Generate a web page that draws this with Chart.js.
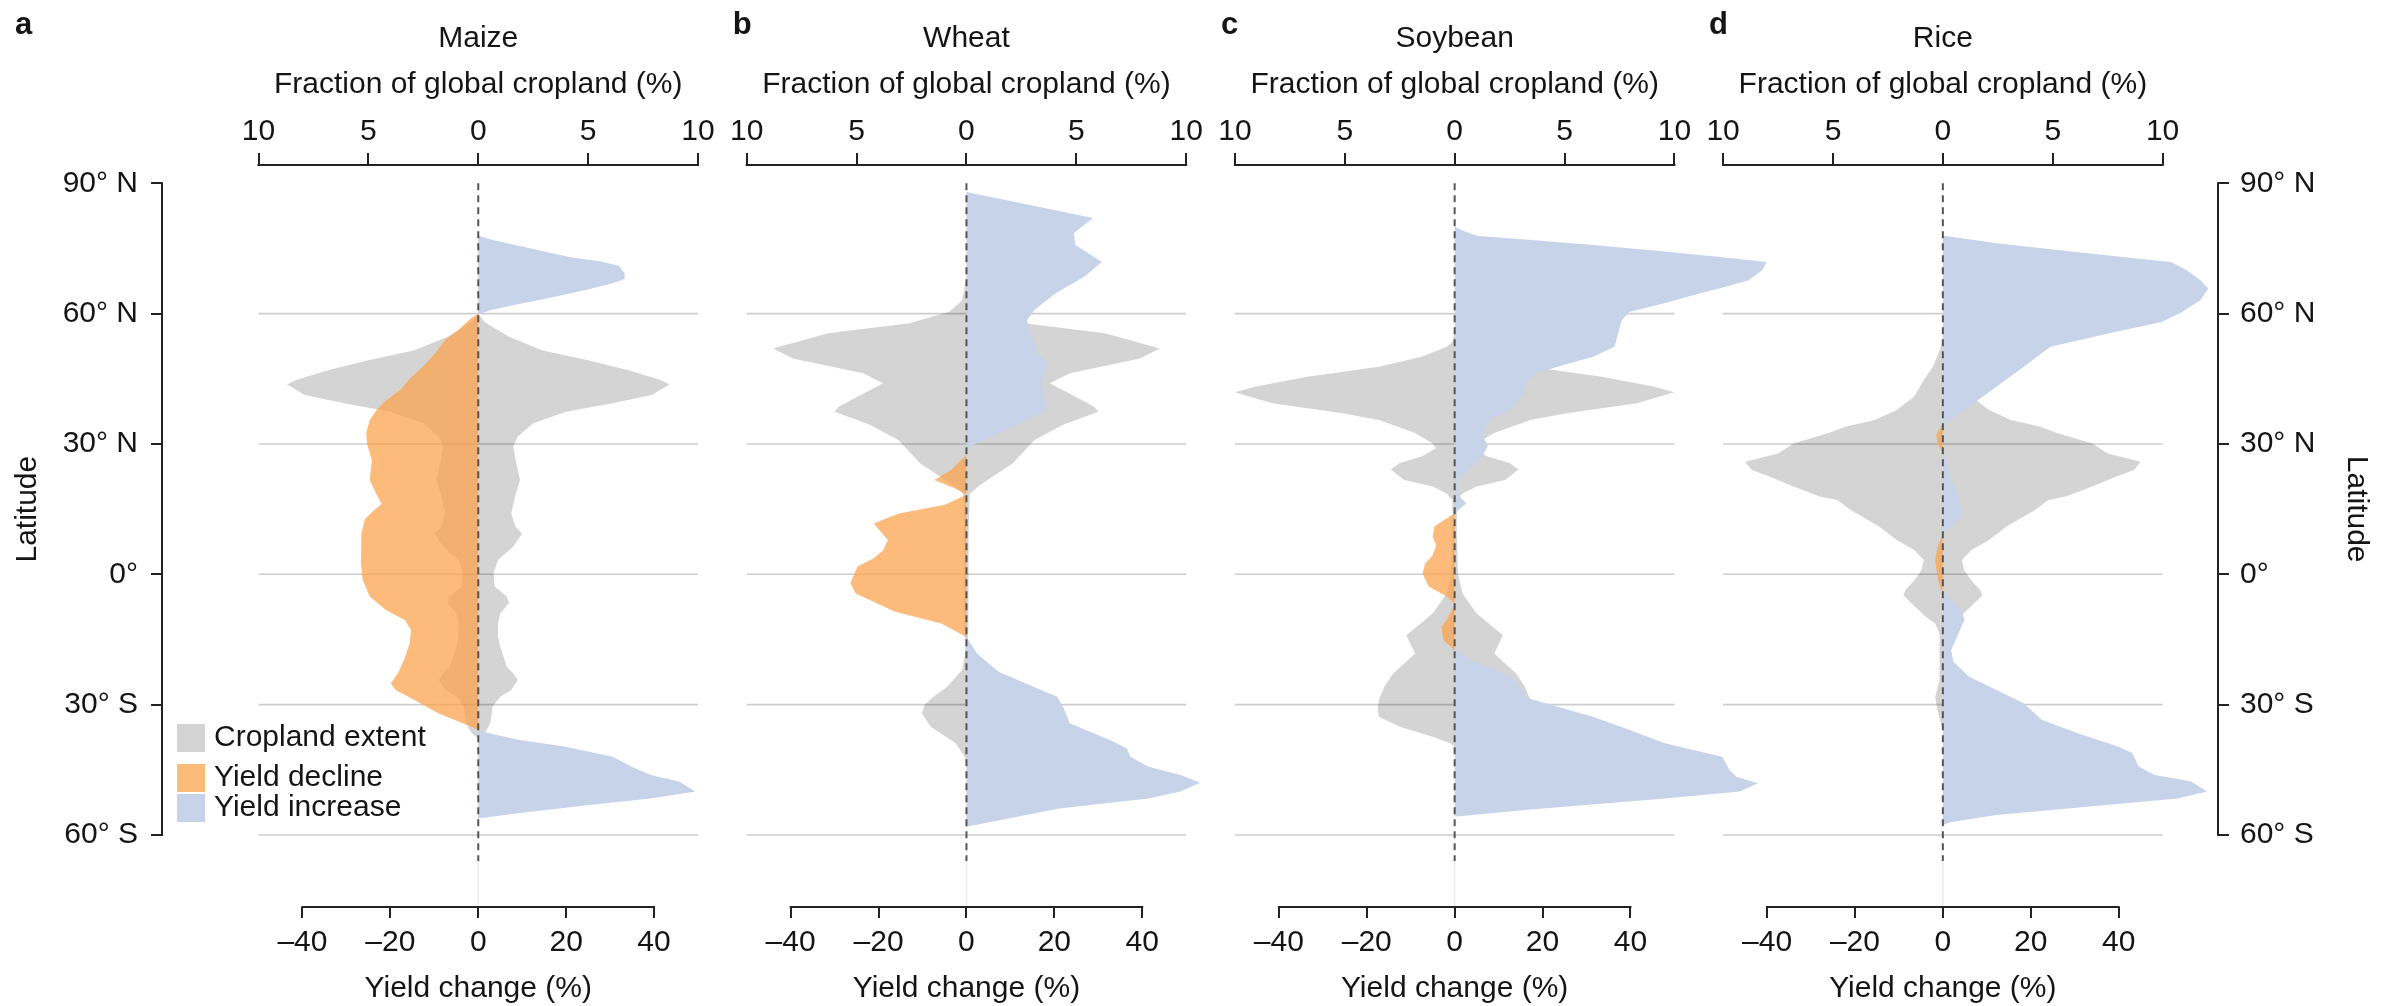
<!DOCTYPE html>
<html>
<head>
<meta charset="utf-8">
<script src="https://cdn.jsdelivr.net/npm/chart.js@4.4.1/dist/chart.umd.min.js"></script>
<style>
  html, body { margin: 0; padding: 0; background: #fff; }
  #wrap { position: relative; width: 2390px; height: 1006px; }
  #wrap canvas { position: absolute; left: 0; top: 0; }
</style>
</head>
<body>
<div id="wrap">
  <canvas id="c0" width="2390" height="1006"></canvas>
  <canvas id="c1" width="2390" height="1006"></canvas>
  <canvas id="c2" width="2390" height="1006"></canvas>
  <canvas id="c3" width="2390" height="1006"></canvas>
</div>
<script>
// crop-yield change vs latitude, four panels
const crops = ['Maize', 'Wheat', 'Soybean', 'Rice'];
const panelLetters = ['a', 'b', 'c', 'd'];
const latTicks = [90, 60, 30, 0, -30, -60];
const fractionTicks = [-10, -5, 0, 5, 10];
const yieldTicks = [-40, -20, 0, 20, 40];
const legendLabels = ['Cropland extent', 'Yield decline', 'Yield increase'];

// extent: [latitude, fraction of global cropland %] (drawn mirrored)
// decline / increase: [latitude, yield change %]
const maizeExtent = [[60,0],[58,0.3],[54.7,1.4],[51.6,2.9],[49.3,5.0],[47,6.8],[44.7,8.3],[43.7,8.7],[41.3,7.9],[39.4,6.1],[37.4,4.0],[34.8,2.5],[31.7,1.8],[29.4,1.6],[26.3,1.7],[21.7,1.9],[18.3,1.7],[14,1.5],[10.9,1.7],[9.4,2.0],[6.4,1.6],[3.3,0.9],[0.3,0.7],[-2.8,0.75],[-5.1,1.3],[-6.6,1.4],[-9,1.0],[-11.3,0.9],[-14.4,0.9],[-16.6,1.0],[-21.3,1.3],[-22.8,1.6],[-24.3,1.8],[-26.6,1.5],[-28.2,1.0],[-30.4,0.65],[-34.3,0.55],[-36.6,0.3],[-37.7,0]];
const maizeDecline = [[60,0],[59,-1.6],[56,-4.8],[54,-7.5],[51,-9.7],[48,-12.4],[45,-15.6],[42.5,-17.7],[40,-21],[38,-23],[35.5,-24.7],[32.5,-25.5],[30,-25.3],[26.3,-24.2],[21.7,-24.7],[18.3,-23.1],[16.2,-22],[14.3,-24.2],[12.7,-25.8],[9.4,-26.6],[2.5,-26.7],[-1.3,-26.3],[-5.1,-24.7],[-8.2,-21],[-10.5,-16.7],[-12.8,-15.3],[-15.9,-15.6],[-19.7,-16.9],[-22.8,-18.3],[-25.1,-19.9],[-26.6,-18.8],[-28.9,-14.5],[-32,-9.1],[-34.6,-2.7],[-35.8,0]];
const maizeIncrease = [[78,0],[77,3],[75,12],[73,21],[72,28],[71,32],[69.3,33.3],[68,33.3],[67,30.6],[65.4,24.2],[63.5,15.6],[62,8.1],[60.8,2.7],[59.8,0],[-36,0],[-38.1,9.1],[-39.7,19.9],[-42,30.6],[-44.3,34.9],[-46.2,39.2],[-47.7,45.7],[-50,49.4],[-51.6,39.2],[-53.1,25.3],[-55,9.1],[-56.2,0]];

const wheatExtent = [[68,0],[67,0.05],[63,0.2],[60.4,0.8],[57.8,2.6],[55.5,6.3],[52,8.8],[49.7,7.9],[46.3,4.7],[44,3.8],[38.6,5.8],[37.4,6.0],[34.4,4.4],[30.9,3.1],[25.5,2.1],[22.5,1.2],[20.5,0.6],[18.5,0.15],[10,0.1],[0,0.1],[-12,0.08],[-18,0.05],[-22,0.2],[-26,0.9],[-28.2,1.5],[-30,1.9],[-32,2.03],[-35.1,1.62],[-38.9,0.49],[-42,0.08],[-44.3,0]];
const wheatDecline = [[27.5,0],[24,-3.5],[21.7,-7.3],[19.5,-2],[18.3,0],[16,-4.9],[14,-15.4],[11.7,-21.1],[7.9,-17.9],[5.5,-19],[3.7,-21.1],[1.8,-24.8],[-2,-26.4],[-4.4,-25.2],[-8.6,-16.2],[-11.3,-5.7],[-14.4,0]];
const wheatIncrease = [[88,0],[82,28.8],[78.5,24.4],[75.8,24.8],[71.9,30.8],[68.5,26.8],[64.7,20.3],[60.8,15.4],[58.5,13.8],[55.5,14.6],[50.9,16.2],[48.6,18.7],[44,17.0],[37.8,18.3],[35.5,13.8],[31.7,5.7],[29.4,0.8],[27.5,0],[-14.4,0],[-18.2,2.4],[-22.4,7.3],[-26.6,17.0],[-28.2,20.7],[-31.2,22.3],[-34.3,23.5],[-38.1,32.5],[-40.1,36.5],[-42,37.3],[-44.3,41.4],[-46.2,48.7],[-48,53.2],[-50,48.7],[-51.6,41.4],[-53.9,21.1],[-58.1,0]];

const soyExtent = [[56,0],[53.6,0.1],[52.4,0.36],[50.1,1.5],[47.8,3.45],[45.5,6.7],[43.2,9.1],[41.9,10.0],[39.4,8.3],[37.1,5.1],[35.5,3.45],[32.5,1.8],[30.1,1.0],[29,0.85],[27.1,1.5],[25.6,2.5],[24.1,2.9],[22.5,2.5],[21.7,2.3],[20.2,1.0],[18.6,0.36],[17.1,0.1],[10,0.1],[0,0.15],[-4.4,0.36],[-9,1.0],[-14,2.2],[-18.2,1.8],[-22.8,2.8],[-25.9,3.2],[-28.9,3.45],[-31.2,3.5],[-32.8,3.45],[-35.1,2.5],[-37.4,1.0],[-38.9,0.2],[-39.7,0]];
const soyDecline = [[14,0],[12.9,-1.8],[11,-4.6],[8.7,-5.0],[6.7,-4.2],[4.4,-5.0],[2.5,-6.7],[0.2,-7.3],[-2.8,-5.9],[-5.1,-1.8],[-6.5,-0.2],[-7.5,-0.3],[-10.5,-1.8],[-12,-3.0],[-15.1,-2.6],[-16.6,-1.0],[-17.4,0]];
const soyIncrease = [[80,0],[78.9,2.3],[77.9,5.1],[77.1,15.3],[75.8,31.5],[74.3,47.7],[73.1,59.9],[71.9,71.0],[70,70.0],[67.7,66.9],[66.2,61.7],[64.7,55.9],[62.4,47.7],[60.4,39.7],[58.5,38.0],[55.5,37.2],[52.4,36.4],[50.1,31.5],[47.8,23.4],[46.3,18.5],[44,16.1],[41.7,15.7],[38.6,13.7],[35.5,8.0],[32.5,6.3],[29.4,7.5],[27.1,6.3],[23.2,2.3],[21.7,0.8],[19,0.5],[17.5,1.5],[16.3,2.7],[15,1.0],[14,0],[-17.4,0],[-19.7,3.9],[-22,9.6],[-24.3,13.7],[-26.6,15.3],[-28.6,16.9],[-30.5,23.4],[-32.8,31.5],[-35.8,39.7],[-38.9,47.8],[-42,60.9],[-45,62.5],[-46.6,64.1],[-48.1,69.0],[-50,64.9],[-51.6,47.8],[-54.3,15.3],[-55.8,0]];

const riceExtent = [[54,0],[51.6,0.15],[47.8,0.45],[44.7,0.87],[40.9,1.3],[37.8,2.1],[35.5,3.1],[34,4.4],[32.5,5.2],[30.1,6.8],[27.8,7.5],[25.9,9.0],[24,8.7],[22.5,7.9],[20.2,6.8],[17.9,5.6],[17.1,4.8],[14.8,4.2],[11,2.9],[7.9,2.1],[5.6,1.3],[3.3,0.87],[1,0.97],[-1.3,1.28],[-3.6,1.7],[-4.8,1.8],[-7.4,1.28],[-9.8,0.76],[-11.3,0.35],[-13.6,0.15],[-24.3,0.15],[-28.2,0.35],[-31.2,0.25],[-35.1,0.05],[-35.8,0]];
const riceDecline = [[34.7,0],[32.1,-1.5],[30.1,-1.2],[27.8,0],[9.4,0],[6.4,-1.2],[3.3,-1.75],[-0.5,-1.2],[-2.8,-0.7],[-4,0]];
const riceIncrease = [[78,0],[76.2,12.2],[73.9,32.8],[71.9,51.9],[70,55.5],[67.7,58.6],[65.8,60.4],[63.1,58.6],[60.4,54.4],[58.1,49.8],[55.5,37.9],[52.4,24.5],[50.9,22.5],[47.8,18.4],[43.2,12.2],[40.1,8.0],[37.1,3.9],[35.1,0.8],[34.4,0],[27.8,0],[26,0.8],[21.7,1.9],[18.3,3.4],[14,4.4],[11.7,2.9],[10.2,0.8],[9.4,0],[-4,0],[-5.9,1.9],[-8.2,4.4],[-10.5,4.9],[-12.8,3.9],[-17.4,1.9],[-20.1,2.4],[-23.6,6.0],[-26.6,12.2],[-29.7,18.4],[-33.5,22.5],[-36.6,30.7],[-39.7,40.0],[-41.2,43.1],[-44.3,44.6],[-46.2,48.2],[-47.7,56.5],[-50,60.1],[-51.6,53.4],[-53.5,32.8],[-55.4,12.2],[-57,1.9],[-57.7,0]];

const zeroLineLat = [90, -66];

const panels = [
  {extent: maizeExtent, decline: maizeDecline, increase: maizeIncrease},
  {extent: wheatExtent, decline: wheatDecline, increase: wheatIncrease},
  {extent: soyExtent, decline: soyDecline, increase: soyIncrease},
  {extent: riceExtent, decline: riceDecline, increase: riceIncrease}
];

// layout (pixels)
const FONT = "'Liberation Sans', Arial, Helvetica, sans-serif";
const TEXT = '#151515';
const AXIS = '#222';
const GRAY = 'rgba(0,0,0,0.17)';
const ORANGE = 'rgba(252,162,74,0.73)';
const BLUE = '#c7d3e9';
const GRID = '#cdcdcd';
const AREA = {left: 162, right: 2218, top: 165, bottom: 907};
const PANEL_LEFT = [258.5, 746.7, 1234.9, 1723.1];
const PANEL_WIDTH = 439.5;
const PX_LAT90 = 183.3, PX_LATM60 = 835;

const pxPerDeg = (PX_LATM60 - PX_LAT90) / 150;
const latMax = 90 + (PX_LAT90 - AREA.top) / pxPerDeg;
const latMin = -60 - (AREA.bottom - PX_LATM60) / pxPerDeg;

Chart.defaults.font.family = FONT;
Chart.defaults.font.size = 30;
Chart.defaults.color = TEXT;

function yieldRange(i) {
  const perPx = 100 / PANEL_WIDTH;
  const l = PANEL_LEFT[i];
  return {min: -50 - (l - AREA.left) * perPx, max: 50 + (AREA.right - (l + PANEL_WIDTH)) * perPx};
}
const fixedTicks = vals => scale => { scale.ticks = vals.map(v => ({value: v})); };
const latLabel = v => v > 0 ? v + '\u00b0 N' : v < 0 ? (-v) + '\u00b0 S' : '0\u00b0';
const signed = v => v < 0 ? '\u2013' + (-v) : String(v);
const pts = (arr, sign) => arr.map(([lat, v]) => ({x: sign * v, y: lat}));

const framePlugin = {
  id: 'frame',
  beforeDatasetsDraw(chart) {
    const {ctx, scales: {x2, y}} = chart;
    ctx.save();
    ctx.strokeStyle = GRID;
    ctx.lineWidth = 1.6;
    latTicks.filter(v => v !== 90).forEach(v => {
      const py = y.getPixelForValue(v);
      ctx.beginPath();
      ctx.moveTo(x2.getPixelForValue(fractionTicks[0]), py);
      ctx.lineTo(x2.getPixelForValue(fractionTicks[fractionTicks.length - 1]), py);
      ctx.stroke();
    });
    ctx.restore();
  },
  afterDraw(chart, args, opts) {
    const {ctx, chartArea: area, scales: {x, x2, y}} = chart;
    const zero = x.getPixelForValue(0);
    const seg = (x1, y1, xb, yb) => { ctx.beginPath(); ctx.moveTo(x1, y1); ctx.lineTo(xb, yb); ctx.stroke(); };
    ctx.save();
    ctx.strokeStyle = AXIS;
    ctx.lineWidth = 2;
    ctx.lineCap = 'square';
    seg(x2.getPixelForValue(fractionTicks[0]), area.top, x2.getPixelForValue(fractionTicks[fractionTicks.length - 1]), area.top);
    seg(x.getPixelForValue(yieldTicks[0]), area.bottom, x.getPixelForValue(yieldTicks[yieldTicks.length - 1]), area.bottom);
    if (opts.side) {
      const px = opts.side === 'left' ? area.left : area.right;
      seg(px, y.getPixelForValue(latTicks[0]), px, y.getPixelForValue(latTicks[latTicks.length - 1]));
    }
    ctx.fillStyle = TEXT;
    ctx.textAlign = 'center';
    ctx.textBaseline = 'alphabetic';
    ctx.font = '30px ' + FONT;
    ctx.fillText(opts.crop, zero, 47);
    ctx.fillText('Fraction of global cropland (%)', zero, 93);
    ctx.fillText('Yield change (%)', zero, 997);
    ctx.textAlign = 'left';
    ctx.font = 'bold 31px ' + FONT;
    ctx.fillText(opts.letter, opts.letterX, 34);
    ctx.font = '30px ' + FONT;
    ctx.textBaseline = 'middle';
    if (opts.side) {
      const latMid = y.getPixelForValue((latTicks[0] + latTicks[latTicks.length - 1]) / 2);
      ctx.save();
      ctx.textAlign = 'center';
      if (opts.side === 'left') { ctx.translate(28, latMid); ctx.rotate(-Math.PI / 2); }
      else { ctx.translate(2356, latMid); ctx.rotate(Math.PI / 2); }
      ctx.fillText('Latitude', 0, 0);
      ctx.restore();
    }
    if (opts.legend) {
      const ds = chart.data.datasets;
      const rows = [[ds[0].backgroundColor, 724], [ds[2].backgroundColor, 764], [ds[3].backgroundColor, 794]];
      rows.forEach(([color, top], k) => {
        ctx.fillStyle = color;
        ctx.fillRect(177, top, 28, 28);
        ctx.fillStyle = TEXT;
        ctx.fillText(legendLabels[k], 214, top + 14);
      });
    }
    ctx.restore();
  }
};

panels.forEach((p, i) => {
  const r = yieldRange(i);
  const side = i === 0 ? 'left' : i === 3 ? 'right' : null;
  const common = {pointRadius: 0, borderWidth: 0, tension: 0, yAxisID: 'y'};
  const tickGrid = {drawOnChartArea: false, drawTicks: true, color: AXIS, lineWidth: 2};
  new Chart(document.getElementById('c' + i), {
    type: 'line',
    data: {
      datasets: [
        {...common, label: legendLabels[0], data: pts(p.extent, 1), xAxisID: 'x2', backgroundColor: GRAY, fill: 'origin', order: 5},
        {...common, label: legendLabels[0], data: pts(p.extent, -1), xAxisID: 'x2', backgroundColor: GRAY, fill: 'origin', order: 5},
        {...common, label: legendLabels[1], data: pts(p.decline, 1), xAxisID: 'x', backgroundColor: ORANGE, fill: 'origin', order: 3},
        {...common, label: legendLabels[2], data: pts(p.increase, 1), xAxisID: 'x', backgroundColor: BLUE, fill: 'origin', order: 2},
        {...common, label: 'zero', data: zeroLineLat.map(v => ({x: 0, y: v})), xAxisID: 'x', borderColor: '#555', borderWidth: 2, borderDash: [7, 5], fill: false, order: 1},
        {...common, label: 'zero-end', data: [{x: 0, y: zeroLineLat[1]}, {x: 0, y: latMin}], xAxisID: 'x', borderColor: '#ececec', borderWidth: 1.5, fill: false, order: 1}
      ]
    },
    options: {
      indexAxis: 'y',
      responsive: false,
      animation: false,
      devicePixelRatio: 1,
      events: [],
      layout: {padding: {left: side === 'left' ? 0 : AREA.left, right: side === 'right' ? 0 : 2390 - AREA.right, top: 0, bottom: 0}},
      plugins: {
        legend: {display: false},
        tooltip: {enabled: false},
        frame: {crop: crops[i], letter: panelLetters[i], letterX: i === 0 ? 15 : PANEL_LEFT[i] - 14, side: side, legend: i === 0}
      },
      scales: {
        x: {
          type: 'linear', axis: 'x', position: 'bottom', min: r.min, max: r.max,
          afterBuildTicks: fixedTicks(yieldTicks),
          afterFit: s => { s.height = 1006 - AREA.bottom; },
          ticks: {callback: signed, autoSkip: false, maxRotation: 0, padding: 7},
          grid: {...tickGrid, tickLength: 11},
          border: {display: false}
        },
        x2: {
          type: 'linear', axis: 'x', position: 'top', min: r.min / 5, max: r.max / 5,
          afterBuildTicks: fixedTicks(fractionTicks),
          afterFit: s => { s.height = AREA.top; },
          ticks: {callback: v => String(Math.abs(v)), autoSkip: false, maxRotation: 0, padding: 3},
          grid: {...tickGrid, tickLength: 12},
          border: {display: false}
        },
        y: {
          type: 'linear', axis: 'y', position: side === 'right' ? 'right' : 'left',
          display: side !== null, min: latMin, max: latMax,
          afterBuildTicks: fixedTicks(latTicks),
          afterFit: s => { s.width = side === 'right' ? 2390 - AREA.right : side === 'left' ? AREA.left : 0; },
          ticks: {callback: latLabel, autoSkip: false, padding: side === 'right' ? 11 : 13},
          grid: {...tickGrid, tickLength: 11},
          border: {display: false}
        }
      }
    },
    plugins: [framePlugin]
  });
});
</script>
</body>
</html>
